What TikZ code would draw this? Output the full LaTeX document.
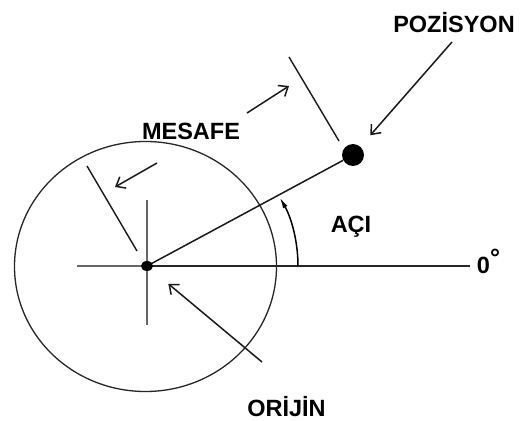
\documentclass[tikz,border=0pt]{standalone}
\usepackage{fontspec}
\setmainfont{Liberation Sans}
\usetikzlibrary{arrows.meta,positioning,shapes.geometric}

\begin{document}
\begin{tikzpicture}[x=1pt, y=1pt,
        lbl/.style={font=\fontsize{23.5}{25}\selectfont\bfseries, inner sep=0pt, anchor=base},
        thinline/.style={line width=1.3pt, black!85},
        crossline/.style={line width=1.6pt, black!60},
        tickline/.style={line width=1.4pt, black!90},
        arr/.style={-{Straight Barb[length=8pt,width=13pt]}, line width=1.5pt, black!90}
      ]
        \useasboundingbox (0,0) rectangle (523,421);

        \coordinate (oc) at (147,155);
        \draw[thinline] (145.5,154.5) ellipse [x radius=131, y radius=125];

        % cross at origin
        \coordinate (crossL) at (77,155);
        \coordinate (crossT) at (147,221);
        \coordinate (crossB) at (147,96);
        \draw[crossline] (crossL) -- (oc);
        \draw[crossline] (crossT) -- (crossB);

        % origin and position
        \node[circle, fill=black, inner sep=0pt, minimum size=22pt] (pos) at (353,266) {};
        \coordinate (axisR) at (470,155);
        \draw[line width=1.9pt, black!85] (oc) -- (axisR);
        \draw[line width=1.5pt, black!90] (oc) -- (pos);
        \node[ellipse, fill=black, inner sep=0pt, minimum width=12pt, minimum height=10pt] (orj) at (oc) {};

        % zero axis
        \node[lbl] (zero) at (488.5,147) {0\raisebox{7pt}{\fontsize{25}{26}\selectfont °}};

        % angle
        \coordinate (a0) at (298,155);
        \draw[line width=1.5pt, -{Latex[length=11pt,width=5pt]}] (a0) arc[start angle=0, end angle=28.4, x radius=151, y radius=144];
        \node[lbl] (aci) at (351,188) {AÇI};

        % distance ticks
        \coordinate (t1a) at (289,364);
        \coordinate (t1b) at (339,280);
        \coordinate (t2a) at (87,255);
        \coordinate (t2b) at (137,170);
        \draw[tickline] (t1a) -- (t1b);
        \draw[tickline] (t2a) -- (t2b);

        \node[lbl, anchor=center] (mes) at (191,290) {MESAFE};
        \coordinate (m1a) at (247,308);
        \coordinate (m1b) at (289,335);
        \coordinate (m2a) at (157,258);
        \coordinate (m2b) at (115,234);
        \draw[arr] (m1a) -- (m1b);
        \draw[arr] (m2a) -- (m2b);

        % labels with arrows
        \node[lbl] (poz) at (454,388) {POZİSYON};
        \coordinate (p1) at (452,379);
        \draw[arr, shorten >=15pt] (p1) -- (pos);

        \node[lbl] (ori) at (286.5,5) {ORİJİN};
        \coordinate (o1) at (262,59);
        \draw[arr, shorten >=22pt] (o1) -- (orj);
\end{tikzpicture}
\end{document}
